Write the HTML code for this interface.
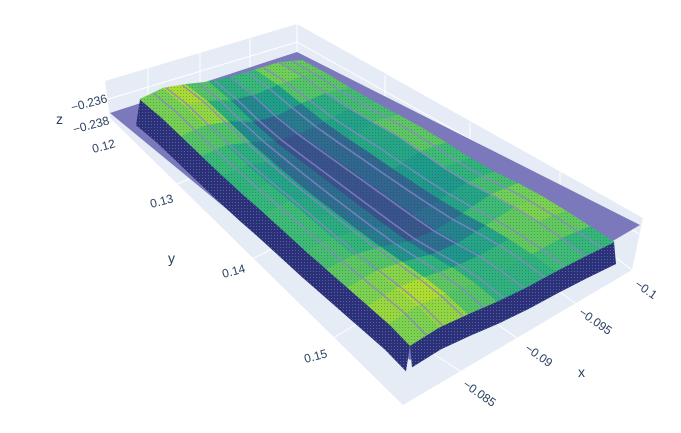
<!DOCTYPE html>
<html><head><meta charset="utf-8"><style>
body{margin:0;background:#fff;}
svg{display:block;font-family:"Liberation Sans",sans-serif;}
</style></head><body>
<svg id="chart" width="681" height="433" viewBox="0 0 681 433">
<defs>
<pattern id="dots" width="3" height="3" patternUnits="userSpaceOnUse"><rect x="0" y="0" width="1" height="1" fill="#1d2a6a" opacity="0.3"/></pattern>
<pattern id="skdots" width="3" height="3" patternUnits="userSpaceOnUse"><rect x="0" y="0" width="3" height="3" fill="#2e2f78"/><rect x="1" y="1" width="1" height="1" fill="#3d6fa0"/></pattern>
</defs>
<polygon points="105,81 297,24 643,218 632,270 403,405 110,118" fill="#e5ecf6"/>
<g stroke="#fff" stroke-width="1" fill="none">
<line x1="297" y1="24" x2="297" y2="54"/>
<line x1="148" y1="68" x2="148" y2="103"/>
<line x1="200" y1="52" x2="200" y2="87"/>
<line x1="250" y1="38" x2="250" y2="72"/>
<line x1="105" y1="100" x2="297" y2="42"/>
<line x1="297" y1="42" x2="643" y2="236"/>
<line x1="385" y1="75" x2="385" y2="100"/>
<line x1="470" y1="122" x2="470" y2="150"/>
<line x1="560" y1="172" x2="560" y2="198"/>
<line x1="632" y1="270" x2="600" y2="245"/>
<line x1="575" y1="303" x2="540" y2="278"/>
<line x1="517" y1="338" x2="480" y2="312"/>
<line x1="460" y1="371" x2="420" y2="345"/>
<line x1="175" y1="185" x2="210" y2="170"/>
<line x1="250" y1="260" x2="280" y2="245"/>
<line x1="330" y1="340" x2="360" y2="322"/>
</g>
<polygon points="110,113 297,52 640,225 410,360" fill="#7b78bb"/>
<g id="surf"></g>
<g id="stripes"></g>
<g fill="#2a3f5f" font-size="12">
<text x="108" y="102" text-anchor="end" transform="rotate(-15 108 102)">−0.236</text>
<text x="110" y="124" text-anchor="end" transform="rotate(-15 110 124)">−0.238</text>
<text x="56" y="124" font-size="14">z</text>
</g>
<g fill="#2a3f5f" font-size="12">
<text x="116" y="147" text-anchor="end" transform="rotate(-15 116 147)">0.12</text>
<text x="174" y="202" text-anchor="end" transform="rotate(-15 174 202)">0.13</text>
<text x="246" y="272" text-anchor="end" transform="rotate(-15 246 272)">0.14</text>
<text x="328" y="357" text-anchor="end" transform="rotate(-15 328 357)">0.15</text>
<text x="168" y="263" font-size="14">y</text>
</g>
<g fill="#2a3f5f" font-size="12">
<text x="634" y="286" transform="rotate(35 634 286)">−0.1</text>
<text x="578" y="314" transform="rotate(35 578 314)">−0.095</text>
<text x="524" y="350" transform="rotate(35 524 350)">−0.09</text>
<text x="462" y="386" transform="rotate(35 462 386)">−0.085</text>
<text x="578" y="377" font-size="14">x</text>
</g>
</svg>
<script>
// Height grid (0..1 normalized z), rows along y (0.12 -> 0.155), cols along x
const heightRows = [
[.55,.9,.8,.62,.6,.7,.8,.6],
[.65,1,.85,.5,.45,.7,.85,.65],
[.6,.85,.65,.2,.15,.5,.7,.6],
[.55,.75,.45,.03,.03,.3,.65,.6],
[.5,.65,.35,.02,.02,.25,.7,.65],
[.5,.65,.3,.02,.02,.25,.8,.7],
[.55,.7,.3,.02,.02,.22,.7,.65],
[.55,.7,.35,.02,.02,.22,.6,.55],
[.55,.7,.4,.03,.02,.25,.6,.55],
[.6,.75,.5,.08,.05,.35,.75,.7],
[.65,.85,.65,.3,.25,.55,.85,.75],
[.7,.95,.8,.55,.5,.65,.85,.7],
[.75,1,.85,.65,.55,.65,.75,.6],
[.6,.8,.7,.55,.5,.55,.55,.5]
];
const stripeCols = [0.08,0.16,0.26,0.36,0.46,0.56,0.66,0.76,0.86,0.94];
const P00=[140,108],P10=[302,70],P01=[410,355],P11=[614,250];
function proj(u,v,h){
  const x=(1-u)*(1-v)*P00[0]+u*(1-v)*P10[0]+(1-u)*v*P01[0]+u*v*P11[0];
  const y=(1-u)*(1-v)*P00[1]+u*(1-v)*P10[1]+(1-u)*v*P01[1]+u*v*P11[1];
  return [x,y-h*16];
}
const vir=[[68,1,84],[72,40,120],[62,74,137],[49,104,142],[38,130,142],[31,158,137],[53,183,121],[110,206,88],[181,222,43],[253,231,37]];
function col(t){t=Math.max(0,Math.min(1,t))*9;const i=Math.min(8,Math.floor(t)),f=t-i;
  const c=vir[i].map((a,k)=>Math.round(a+(vir[i+1][k]-a)*f));return `rgb(${c})`;}
const NS="http://www.w3.org/2000/svg";
const g=document.getElementById('surf');
const R=heightRows.length,C=heightRows[0].length;
const sk=[];
for(let r=0;r<R;r++){sk.push(proj(0,r/(R-1),heightRows[r][0]));}
const sp=document.createElementNS(NS,'polygon');
sp.setAttribute('points',sk.map(p=>p.join(',')).join(' ')+' '+sk.slice().reverse().map(p=>[p[0]-4,p[1]+26].join(',')).join(' '));
sp.setAttribute('fill','url(#skdots)');


g.appendChild(sp);
const sk2=[];for(let c=0;c<C;c++){sk2.push(proj(c/(C-1),1,heightRows[R-1][c]));}
const sp2=document.createElementNS(NS,'polygon');
sp2.setAttribute('points',sk2.map(p=>p.join(',')).join(' ')+' '+sk2.slice().reverse().map(p=>[p[0]+2,p[1]+22].join(',')).join(' '));
sp2.setAttribute('fill','url(#skdots)');


g.appendChild(sp2);
for(let r=0;r<R-1;r++)for(let c=0;c<C-1;c++){
  const h=[heightRows[r][c],heightRows[r][c+1],heightRows[r+1][c+1],heightRows[r+1][c]];
  const pts=[proj(c/(C-1),r/(R-1),h[0]),proj((c+1)/(C-1),r/(R-1),h[1]),proj((c+1)/(C-1),(r+1)/(R-1),h[2]),proj(c/(C-1),(r+1)/(R-1),h[3])];
  const el=document.createElementNS(NS,'polygon');
  el.setAttribute('points',pts.map(p=>p.join(',')).join(' '));
  const m=(h[0]+h[1]+h[2]+h[3])/4;
  const t=0.24+0.71*m;
  el.setAttribute('fill',col(t));el.setAttribute('stroke',col(t));el.setAttribute('stroke-width','0.8');
  
  
  g.appendChild(el);
}
const outline=[];
for(let c=0;c<C;c++)outline.push(proj(c/(C-1),0,heightRows[0][c]));
for(let r=1;r<R;r++)outline.push(proj(1,r/(R-1),heightRows[r][C-1]));
for(let c=C-2;c>=0;c--)outline.push(proj(c/(C-1),1,heightRows[R-1][c]));
for(let r=R-2;r>0;r--)outline.push(proj(0,r/(R-1),heightRows[r][0]));
const tex=document.createElementNS(NS,'polygon');
tex.setAttribute('points',outline.map(p=>p.join(',')).join(' '));
tex.setAttribute('fill','url(#dots)');


g.appendChild(tex);
const sg=document.getElementById('stripes');
stripeCols.forEach(u=>{
  const pts=[];for(let r=0;r<R;r++){const c=u*(C-1),i=Math.min(C-2,Math.floor(c)),f=c-i;
    const h=heightRows[r][i]*(1-f)+heightRows[r][i+1]*f;pts.push(proj(u,r/(R-1),h));}
  const pl=document.createElementNS(NS,'polyline');
  pl.setAttribute('points',pts.map(p=>p.join(',')).join(' '));
  pl.setAttribute('fill','none');pl.setAttribute('stroke','#8c84c9');pl.setAttribute('stroke-width','1.6');pl.setAttribute('opacity','0.75');
  
  
  sg.appendChild(pl);
});
</script>
</body></html>
